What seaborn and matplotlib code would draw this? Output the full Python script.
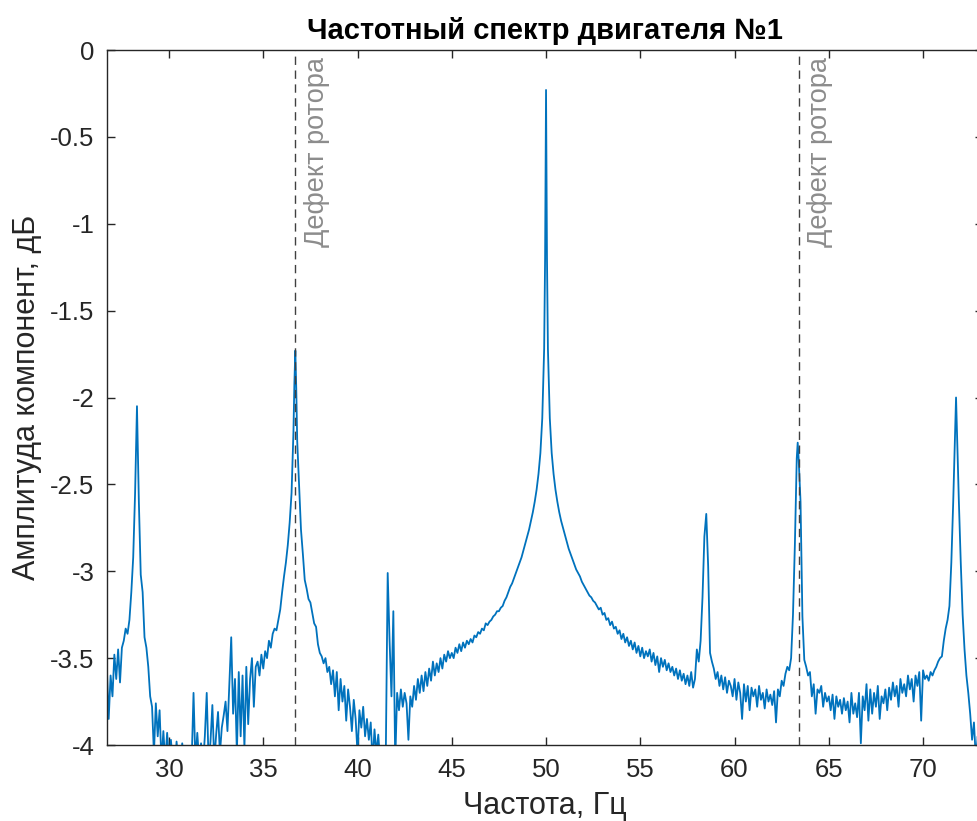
import numpy as np
import pandas as pd
import matplotlib
matplotlib.use("Agg")
import matplotlib.pyplot as plt
import matplotlib.ticker as mticker
import seaborn as sns

# spectrum, one row per Hz
freq_hz = [
    26.7, 26.8, 26.9,
    27.0, 27.1, 27.2, 27.3, 27.4, 27.5, 27.6, 27.7, 27.8, 27.9,
    28.0, 28.1, 28.2, 28.3, 28.4, 28.5, 28.6, 28.7, 28.8, 28.9,
    29.0, 29.1, 29.2, 29.3, 29.4, 29.5, 29.6, 29.7, 29.8, 29.9,
    30.0, 30.1, 30.2, 30.3, 30.4, 30.5, 30.6, 30.7, 30.8, 30.9,
    31.0, 31.1, 31.2, 31.3, 31.4, 31.5, 31.6, 31.7, 31.8, 31.9,
    32.0, 32.1, 32.2, 32.3, 32.4, 32.5, 32.6, 32.7, 32.8, 32.9,
    33.0, 33.1, 33.2, 33.3, 33.4, 33.5, 33.6, 33.7, 33.8, 33.9,
    34.0, 34.1, 34.2, 34.3, 34.4, 34.5, 34.6, 34.7, 34.8, 34.9,
    35.0, 35.1, 35.2, 35.3, 35.4, 35.5, 35.6, 35.7, 35.8, 35.9,
    36.0, 36.1, 36.2, 36.3, 36.4, 36.5, 36.6, 36.65, 36.7, 36.75, 36.8, 36.9,
    37.0, 37.1, 37.2, 37.3, 37.4, 37.5, 37.6, 37.7, 37.8, 37.9,
    38.0, 38.1, 38.2, 38.3, 38.4, 38.5, 38.6, 38.7, 38.8, 38.9,
    39.0, 39.1, 39.2, 39.3, 39.4, 39.5, 39.6, 39.7, 39.8, 39.9,
    40.0, 40.1, 40.2, 40.3, 40.4, 40.5, 40.6, 40.7, 40.8, 40.9,
    41.0, 41.1, 41.2, 41.3, 41.4, 41.5, 41.6, 41.7, 41.8, 41.9,
    42.0, 42.1, 42.2, 42.3, 42.4, 42.5, 42.6, 42.7, 42.8, 42.9,
    43.0, 43.1, 43.2, 43.3, 43.4, 43.5, 43.6, 43.7, 43.8, 43.9,
    44.0, 44.1, 44.2, 44.3, 44.4, 44.5, 44.6, 44.7, 44.8, 44.9,
    45.0, 45.1, 45.2, 45.3, 45.4, 45.5, 45.6, 45.7, 45.8, 45.9,
    46.0, 46.1, 46.2, 46.3, 46.4, 46.5, 46.6, 46.7, 46.8, 46.9,
    47.0, 47.1, 47.2, 47.3, 47.4, 47.5, 47.6, 47.7, 47.8, 47.9,
    48.0, 48.1, 48.2, 48.3, 48.4, 48.5, 48.6, 48.7, 48.8, 48.9,
    49.0, 49.1, 49.2, 49.3, 49.4, 49.5, 49.6, 49.7, 49.8, 49.9, 49.95,
    50.0,
    50.05, 50.1, 50.2, 50.3, 50.4, 50.5, 50.6, 50.7, 50.8, 50.9,
    51.0, 51.1, 51.2, 51.3, 51.4, 51.5, 51.6, 51.7, 51.8, 51.9,
    52.0, 52.1, 52.2, 52.3, 52.4, 52.5, 52.6, 52.7, 52.8, 52.9,
    53.0, 53.1, 53.2, 53.3, 53.4, 53.5, 53.6, 53.7, 53.8, 53.9,
    54.0, 54.1, 54.2, 54.3, 54.4, 54.5, 54.6, 54.7, 54.8, 54.9,
    55.0, 55.1, 55.2, 55.3, 55.4, 55.5, 55.6, 55.7, 55.8, 55.9,
    56.0, 56.1, 56.2, 56.3, 56.4, 56.5, 56.6, 56.7, 56.8, 56.9,
    57.0, 57.1, 57.2, 57.3, 57.4, 57.5, 57.6, 57.7, 57.8, 57.9,
    58.0, 58.1, 58.2, 58.3, 58.4, 58.5, 58.6, 58.7, 58.8, 58.9,
    59.0, 59.1, 59.2, 59.3, 59.4, 59.5, 59.6, 59.7, 59.8, 59.9,
    60.0, 60.1, 60.2, 60.3, 60.4, 60.5, 60.6, 60.7, 60.8, 60.9,
    61.0, 61.1, 61.2, 61.3, 61.4, 61.5, 61.6, 61.7, 61.8, 61.9,
    62.0, 62.1, 62.2, 62.3, 62.4, 62.5, 62.6, 62.7, 62.8, 62.9,
    63.0, 63.1, 63.2, 63.3, 63.35, 63.4, 63.5, 63.6, 63.7, 63.8, 63.9,
    64.0, 64.1, 64.2, 64.3, 64.4, 64.5, 64.6, 64.7, 64.8, 64.9,
    65.0, 65.1, 65.2, 65.3, 65.4, 65.5, 65.6, 65.7, 65.8, 65.9,
    66.0, 66.1, 66.2, 66.3, 66.4, 66.5, 66.6, 66.7, 66.8, 66.9,
    67.0, 67.1, 67.2, 67.3, 67.4, 67.5, 67.6, 67.7, 67.8, 67.9,
    68.0, 68.1, 68.2, 68.3, 68.4, 68.5, 68.6, 68.7, 68.8, 68.9,
    69.0, 69.1, 69.2, 69.3, 69.4, 69.5, 69.6, 69.7, 69.8, 69.9,
    70.0, 70.1, 70.2, 70.3, 70.4, 70.5, 70.6, 70.7, 70.8, 70.9,
    71.0, 71.1, 71.2, 71.3, 71.4, 71.5, 71.6, 71.7, 71.75, 71.8, 71.9,
    72.0, 72.1, 72.2, 72.3, 72.4, 72.5, 72.6, 72.7, 72.8, 72.9,
    73.0,
]

amp_db = [
    -3.55, -3.85, -3.60,
    -3.72, -3.48, -3.62, -3.45, -3.64, -3.44, -3.40, -3.33, -3.36, -3.28,
    -3.12, -2.92, -2.55, -2.05, -2.60, -3.02, -3.12, -3.38, -3.44, -3.55,
    -3.72, -3.78, -4.05, -3.76, -3.95, -3.80, -4.10, -3.92, -4.10, -3.93,
    -4.10, -3.97, -4.10, -4.15, -3.98, -4.10, -4.15, -3.99, -4.10, -4.15,
    -4.08, -4.12, -4.10, -3.70, -4.10, -3.93, -4.10, -3.99, -4.12, -3.95,
    -3.70, -4.10, -3.98, -3.77, -4.10, -3.94, -3.81, -4.05, -3.90, -3.83,
    -3.75, -3.92, -3.65, -3.38, -3.82, -3.62, -4.05, -3.58, -3.95, -3.60,
    -4.02, -3.55, -3.88, -3.62, -3.50, -3.78, -3.55, -3.52, -3.60, -3.48,
    -3.56, -3.46, -3.50, -3.40, -3.44, -3.36, -3.33, -3.34, -3.28, -3.22,
    -3.12, -3.03, -2.95, -2.85, -2.72, -2.55, -2.20, -1.92, -1.73, -1.95, -2.25, -2.50,
    -2.76, -2.90, -3.05, -3.10, -3.16, -3.18, -3.24, -3.30, -3.32, -3.42,
    -3.47, -3.49, -3.53, -3.50, -3.58, -3.55, -3.65, -3.57, -3.72, -3.58,
    -3.80, -3.62, -3.75, -3.66, -3.86, -3.68, -3.78, -3.92, -3.74, -3.85,
    -4.05, -3.80, -3.90, -3.78, -3.95, -3.85, -3.97, -3.87, -4.10, -3.91,
    -4.05, -3.94, -4.10, -4.02, -4.10, -4.05, -3.01, -3.40, -3.72, -3.23,
    -4.10, -3.70, -3.80, -3.68, -3.78, -3.70, -3.76, -3.97, -3.72, -3.78,
    -3.66, -3.74, -3.62, -3.70, -3.60, -3.69, -3.58, -3.66, -3.56, -3.63,
    -3.52, -3.60, -3.53, -3.58, -3.50, -3.56, -3.48, -3.52, -3.46, -3.50,
    -3.47, -3.50, -3.44, -3.47, -3.42, -3.46, -3.41, -3.44, -3.40, -3.42,
    -3.39, -3.41, -3.37, -3.38, -3.35, -3.36, -3.33, -3.34, -3.30, -3.31,
    -3.29, -3.28, -3.26, -3.25, -3.23, -3.23, -3.21, -3.20, -3.17, -3.15,
    -3.12, -3.09, -3.07, -3.04, -3.01, -2.98, -2.95, -2.92, -2.88, -2.84,
    -2.80, -2.76, -2.71, -2.66, -2.60, -2.53, -2.44, -2.32, -2.12, -1.72, -1.20,
    -0.23,
    -1.20, -1.72, -2.12, -2.32, -2.44, -2.53, -2.60, -2.66, -2.71, -2.75,
    -2.79, -2.83, -2.87, -2.90, -2.93, -2.96, -2.99, -3.01, -3.03, -3.06,
    -3.08, -3.10, -3.12, -3.14, -3.15, -3.17, -3.18, -3.20, -3.22, -3.21,
    -3.25, -3.24, -3.28, -3.27, -3.31, -3.29, -3.33, -3.32, -3.36, -3.34,
    -3.39, -3.36, -3.41, -3.38, -3.43, -3.40, -3.45, -3.41, -3.47, -3.43,
    -3.49, -3.44, -3.50, -3.46, -3.49, -3.45, -3.52, -3.47, -3.54, -3.49,
    -3.58, -3.50, -3.55, -3.51, -3.57, -3.53, -3.58, -3.55, -3.60, -3.56,
    -3.62, -3.57, -3.63, -3.59, -3.65, -3.60, -3.66, -3.58, -3.67, -3.62,
    -3.45, -3.52, -3.40, -3.15, -2.80, -2.67, -2.97, -3.47, -3.52, -3.56,
    -3.62, -3.58, -3.66, -3.60, -3.68, -3.61, -3.70, -3.63, -3.66, -3.72,
    -3.62, -3.74, -3.64, -3.70, -3.85, -3.65, -3.75, -3.66, -3.80, -3.67,
    -3.72, -3.68, -3.78, -3.66, -3.74, -3.70, -3.79, -3.68, -3.75, -3.71,
    -3.77, -3.69, -3.87, -3.68, -3.72, -3.63, -3.66, -3.59, -3.55, -3.57,
    -3.50, -3.25, -2.85, -2.35, -2.26, -2.35, -2.60, -3.26, -3.51, -3.55, -3.60,
    -3.58, -3.72, -3.65, -3.82, -3.68, -3.70, -3.66, -3.78, -3.70, -3.75,
    -3.72, -3.80, -3.71, -3.85, -3.72, -3.78, -3.74, -3.82, -3.73, -3.80,
    -3.75, -3.87, -3.70, -3.82, -3.76, -3.84, -3.70, -3.99, -3.72, -3.80,
    -3.65, -3.86, -3.68, -3.82, -3.70, -3.78, -3.66, -3.85, -3.72, -3.76,
    -3.68, -3.80, -3.67, -3.74, -3.64, -3.72, -3.66, -3.78, -3.62, -3.70,
    -3.65, -3.72, -3.60, -3.68, -3.62, -3.75, -3.60, -3.66, -3.58, -3.86,
    -3.57, -3.62, -3.60, -3.63, -3.58, -3.60, -3.57, -3.55, -3.52, -3.50,
    -3.49, -3.40, -3.33, -3.28, -3.20, -2.95, -2.60, -2.20, -2.00, -2.20, -2.60,
    -2.95, -3.25, -3.45, -3.60, -3.70, -3.82, -3.97, -3.87, -4.08, -3.95,
    -4.10,
]

defect_freqs = [36.7, 63.4]
defect_label = "Дефект ротора"
x_ticks = [30, 35, 40, 45, 50, 55, 60, 65, 70]
y_ticks = [0, -0.5, -1, -1.5, -2, -2.5, -3, -3.5, -4]

df = pd.DataFrame({"freq": freq_hz, "amp": amp_db})

sns.set_theme(style="ticks")
plt.rcParams["font.family"] = ["Liberation Sans", "DejaVu Sans"]
plt.rcParams["axes.unicode_minus"] = False

fig = plt.figure(figsize=(9.78, 8.21), dpi=100)
# right edge of the box sits just past the crop, as in the reference
ax = fig.add_axes([107 / 978, 76 / 821, 876 / 978, 695 / 821])

sns.lineplot(data=df, x="freq", y="amp", ax=ax, color="#0072BD",
             linewidth=1.3, estimator=None, sort=False)

for fx in defect_freqs:
    ax.axvline(fx, color="#404040", linestyle=(0, (6, 4)), linewidth=1.0)
    ax.annotate(defect_label, xy=(fx, 1), xycoords=ax.get_xaxis_transform(),
                xytext=(6, -5), textcoords="offset points", rotation=90,
                ha="left", va="top", fontsize=19.5, color="#8c8c8c")

ax.set_xlim(26.71, 73.18)
ax.set_ylim(-4, 0)
ax.set_xticks(x_ticks)
ax.set_yticks(y_ticks)
ax.yaxis.set_major_formatter(mticker.FuncFormatter(lambda v, p: "%g" % v))

for s in ax.spines.values():
    s.set_color("#262626")
    s.set_linewidth(1.0)
ax.tick_params(direction="in", top=True, right=True, length=6, width=1.0,
               colors="#262626", labelsize=18.5, pad=9)

ax.set_title("Частотный спектр двигателя №1", fontsize=21, fontweight="bold",
             color="black", pad=8)
ax.set_xlabel("Частота, Гц", fontsize=22, color="#262626", labelpad=7)
ax.set_ylabel("Амплитуда компонент, дБ", fontsize=22, color="#262626", labelpad=6)

fig.savefig("out.png", dpi=100)
